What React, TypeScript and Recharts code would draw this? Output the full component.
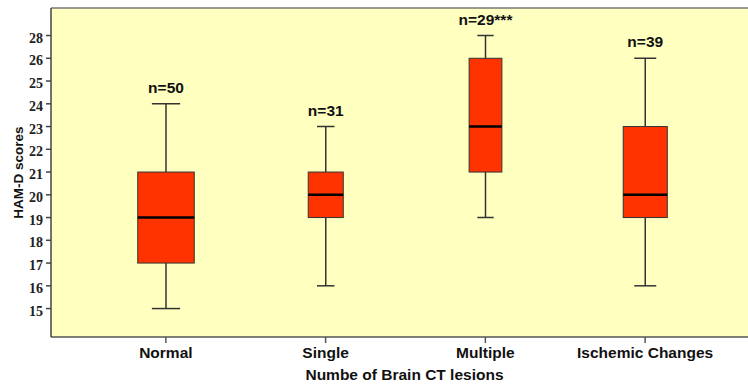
import React from 'react';
import { ComposedChart, Bar, XAxis, YAxis, CartesianGrid, ReferenceLine } from 'recharts';

const categories = ['Normal', 'Single', 'Multiple', 'Ischemic Changes'];
const counts = [50, 31, 29, 39];
const countLabels = ['n=50', 'n=31', 'n=29***', 'n=39'];
const mins = [15, 16, 19, 16];
const q1s = [17, 19, 21, 19];
const medians = [19, 20, 23, 20];
const q3s = [21, 21, 26, 23];
const maxs = [24, 23, 28, 26];
// the printed axis skips 27, ticks are evenly spaced
const yTickLabels = [15, 16, 17, 18, 19, 20, 21, 22, 23, 24, 25, 26, 28];

const pos = (v: number) => {
  for (let i = 0; i < yTickLabels.length - 1; i++) {
    const a = yTickLabels[i];
    const b = yTickLabels[i + 1];
    if (v >= a && v <= b) return i + (v - a) / (b - a);
  }
  return v < yTickLabels[0] ? v - yTickLabels[0] : yTickLabels.length - 1;
};

const rows = categories.map((name, i) => ({
  name,
  n: counts[i],
  label: countLabels[i],
  lo: pos(mins[i]),
  q1: pos(q1s[i]),
  med: pos(medians[i]),
  q3: pos(q3s[i]),
  hi: pos(maxs[i]),
}));

const FONT = '"Liberation Sans", Arial, sans-serif';
const INK = '#333';

const BoxShape = (props: any) => {
  const { x, y, width, height, payload } = props;
  const top = Math.min(y, y + height);
  const bottom = Math.max(y, y + height);
  const span = payload.hi - payload.lo;
  const py = (p: number) => bottom - ((p - payload.lo) / span) * (bottom - top);
  const cx = x + width / 2;
  const bw = payload.n * 1.13;
  const cap = bw / 4;
  const yq1 = py(payload.q1);
  const yq3 = py(payload.q3);
  const ymed = py(payload.med);
  return (
    <g>
      <line x1={cx} x2={cx} y1={top} y2={yq3} stroke={INK} strokeWidth={1.5} />
      <line x1={cx} x2={cx} y1={yq1} y2={bottom} stroke={INK} strokeWidth={1.5} />
      <line x1={cx - cap} x2={cx + cap} y1={top} y2={top} stroke={INK} strokeWidth={1.5} />
      <line x1={cx - cap} x2={cx + cap} y1={bottom} y2={bottom} stroke={INK} strokeWidth={1.5} />
      <rect x={cx - bw / 2} y={yq3} width={bw} height={yq1 - yq3} fill="#ff3300" stroke={INK} strokeWidth={1} />
      <line x1={cx - bw / 2} x2={cx + bw / 2} y1={ymed} y2={ymed} stroke="#000" strokeWidth={2.5} />
      <text x={cx} y={top - 11} textAnchor="middle" fontFamily={FONT} fontWeight="bold" fontSize={15.5} fill="#111">
        {payload.label}
      </text>
    </g>
  );
};

export default function App() {
  return (
    <div style={{ position: 'absolute', left: 0, top: 0, width: 748, height: 384, background: '#fff' }}>
      <ComposedChart width={748} height={384} data={rows} margin={{ top: 8, right: 0, bottom: 0, left: 0 }}>
        <CartesianGrid fill="#ffffc0" horizontal={false} vertical={false} />
        <ReferenceLine y={13.21} stroke="#777" strokeWidth={1.5} />
        <XAxis
          dataKey="name"
          height={47}
          padding={{ left: 35, right: 23 }}
          tickSize={6}
          tickMargin={4}
          axisLine={{ stroke: '#555', strokeWidth: 1.5 }}
          tickLine={{ stroke: '#555', strokeWidth: 1.5 }}
          tick={{ fill: '#111', fontSize: 15.5, fontWeight: 'bold', fontFamily: FONT }}
          label={{ value: 'Numbe of Brain CT lesions', position: 'insideBottom', offset: 4, dx: 5, fill: '#111', fontSize: 15.5, fontWeight: 'bold', fontFamily: FONT }}
        />
        <YAxis
          type="number"
          width={51}
          domain={[-1.25, 13.21]}
          allowDataOverflow
          ticks={yTickLabels.map((_, i) => i)}
          tickFormatter={(i: number) => String(yTickLabels[i])}
          interval={0}
          tickSize={5}
          tickMargin={3}
          axisLine={{ stroke: '#444', strokeWidth: 1.5 }}
          tickLine={{ stroke: '#444', strokeWidth: 1.5 }}
          tick={{ fill: '#222', fontSize: 14, fontWeight: 'bold', fontFamily: '"Liberation Serif", "Times New Roman", serif', dy: 2 }}
          label={{ value: 'HAM-D scores', angle: -90, position: 'insideLeft', offset: 18, fill: '#111', fontSize: 13.5, fontWeight: 'bold', fontFamily: FONT, style: { textAnchor: 'middle' } }}
        />
        <Bar dataKey={(d: any) => [d.lo, d.hi]} barSize={40} shape={BoxShape} isAnimationActive={false} />
      </ComposedChart>
    </div>
  );
}
